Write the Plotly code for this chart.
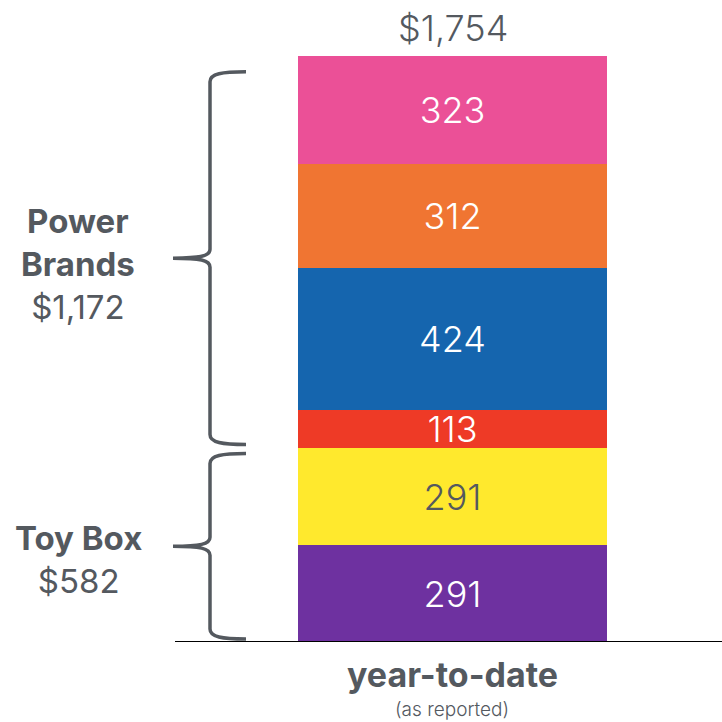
import plotly.graph_objects as go

# data, bottom segment first
period = ["year-to-date"]
segment_values = [291, 291, 113, 424, 312, 323]
segment_colors = ["#6E31A0", "#FFE92D", "#EE3A26", "#1565AE", "#F07532", "#EB5097"]
segment_text_colors = ["white", "#54595F", "white", "white", "white", "white"]
group_names = ["Toy Box", "Power Brands"]
group_sizes = [2, 4]  # number of segments in each group, from the bottom
total = sum(segment_values)

GRAY = "#54595F"
W = H = 722
Y_MAX = 1921
UNITS_PER_PX = Y_MAX / 642.0

fig = go.Figure()
for i, (v, c, tc) in enumerate(zip(segment_values, segment_colors, segment_text_colors)):
    fig.add_trace(go.Bar(
        x=period, y=[v], marker=dict(color=c, line=dict(width=0)),
        text=[f"{v:,}"], textposition="inside", insidetextanchor="middle",
        textfont=dict(family="Inter", size=36, color=tc, weight=300),
        width=1, showlegend=False, hoverinfo="y",
    ))

# total on top of the bar
fig.add_annotation(x=period[0], y=total, text=f"${total:,}", showarrow=False,
                   yanchor="bottom", yshift=4,
                   font=dict(family="Inter", size=36, color=GRAY, weight=300))


def brace_path(y0, y1):
    """curly brace from y0 (bottom) to y1 (top), x in paper, y in data"""
    u = UNITS_PER_PX
    xe, xl, xt = 246 / W, 210 / W, 173 / W
    xc = 222 / W
    xm = 200 / W
    ym = (y0 + y1) / 2
    return (
        f"M {xe},{y1} C {xc},{y1} {xl},{y1 - 2*u} {xl},{y1 - 10*u} "
        f"L {xl},{ym + 9*u} C {xl},{ym + 2*u} {xm},{ym} {xt},{ym} "
        f"C {xm},{ym} {xl},{ym - 2*u} {xl},{ym - 9*u} "
        f"L {xl},{y0 + 10*u} C {xl},{y0 + 2*u} {xc},{y0} {xe},{y0}"
    )


start = 0
idx = 0
for name, n in zip(group_names, group_sizes):
    gsum = sum(segment_values[idx:idx + n])
    lo, hi = start, start + gsum
    top_inset = 16 if hi == total else 6
    fig.add_shape(type="path", xref="paper", yref="y",
                  path=brace_path(lo + 3 * UNITS_PER_PX, hi - top_inset * UNITS_PER_PX),
                  line=dict(color=GRAY, width=3.5))
    if name == "Power Brands":
        label = "<br>".join(f"<b>{w}</b>" for w in name.split(" "))
    else:
        label = f"<b>{name}</b>"
    fig.add_annotation(xref="paper", yref="y", x=78 / W, y=(lo + hi) / 2,
                       text=f"{label}<br>${gsum:,}", showarrow=False,
                       xanchor="center", yanchor="middle",
                       yshift=-12 if name == "Power Brands" else -15,
                       font=dict(family="Inter", size=33, color=GRAY),
                       align="center")
    start = hi
    idx += n

# baseline
fig.add_shape(type="line", xref="paper", yref="y", x0=175 / W, x1=1, y0=0, y1=0,
              line=dict(color="black", width=2))

# category label
fig.add_annotation(xref="paper", yref="paper", x=452 / W, y=-32 / 642,
                   text="<b>year-to-date</b>", showarrow=False, yanchor="middle",
                   font=dict(family="Inter", size=34, color=GRAY))
fig.add_annotation(xref="paper", yref="paper", x=452 / W, y=-67 / 642,
                   text="(as reported)", showarrow=False, yanchor="middle",
                   font=dict(family="Inter", size=19, color=GRAY, weight=300))

fig.update_layout(
    width=W, height=H, barmode="stack", bargap=0,
    margin=dict(l=0, r=0, t=0, b=80),
    plot_bgcolor="white", paper_bgcolor="white",
    xaxis=dict(domain=[298 / W, 607 / W], range=[-0.5, 0.5], visible=False),
    yaxis=dict(range=[0, Y_MAX], visible=False),
    uniformtext=dict(minsize=36, mode="show"),
)

fig.write_html("out.html", config={"displayModeBar": False},
               post_script="document.body.style.margin='0';")
